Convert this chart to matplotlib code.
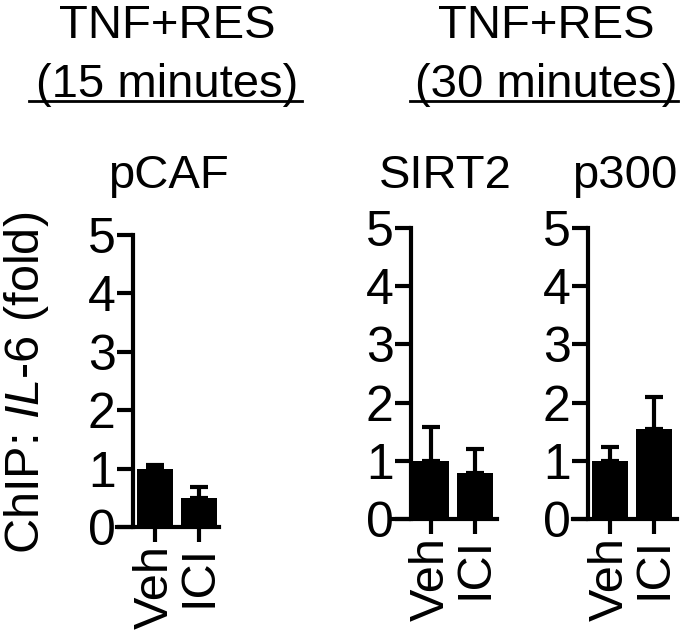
import matplotlib
matplotlib.use("Agg")
import matplotlib.pyplot as plt
from matplotlib.lines import Line2D

plt.rcParams['font.family'] = ['Liberation Sans', 'DejaVu Sans']
plt.rcParams['mathtext.fontset'] = 'custom'
plt.rcParams['mathtext.rm'] = 'Liberation Sans'
plt.rcParams['mathtext.it'] = 'Liberation Sans:italic'

# data
groups = ["Veh", "ICI"]
pcaf = [1.0, 0.5]
pcaf_err = [0.06, 0.18]
sirt2 = [1.0, 0.79]
sirt2_err = [0.58, 0.41]
p300 = [1.0, 1.55]
p300_err = [0.24, 0.55]
yticks = [0, 1, 2, 3, 4, 5]

W, H = 688, 638
fig = plt.figure(figsize=(W / 100, H / 100), dpi=100)

def fx(px):
    return px / W

def fy(py):
    return 1 - py / H

sp = 44.0  # px between bar centres
lw = 3.0

def panel(vals, errs, title, left, spine, right, c0, y0, y5):
    ax = fig.add_axes([fx(left), fy(y0), fx(right - left), (y0 - y5) / H])
    x = list(range(len(groups)))
    ax.bar(x, vals, width=0.8, color="black", zorder=3)
    ax.errorbar(x, vals, yerr=[[0] * len(errs), errs], fmt="none",
                ecolor="black", elinewidth=lw, capsize=6.5, capthick=lw, zorder=2)
    ax.set_xlim((left - c0) / sp, (right - c0) / sp)
    ax.set_ylim(0, 5)
    ax.set_yticks(yticks)
    ax.set_xticks(x)
    ax.set_xticklabels(groups, rotation=90, fontsize=35)
    ax.tick_params(axis="y", labelsize=36, length=11.5, width=lw, pad=1)
    ax.tick_params(axis="x", length=11, width=lw, pad=2)
    for s in ["top", "right"]:
        ax.spines[s].set_visible(False)
    ax.spines["left"].set_position(("data", (spine - c0) / sp))
    ax.spines["left"].set_linewidth(lw)
    ax.spines["bottom"].set_linewidth(lw)
    ax.patch.set_alpha(0)
    fig.text(fx((left + right) / 2), fy(188), title, ha="center", va="baseline", fontsize=34)
    return ax

panel(pcaf, pcaf_err, "pCAF", 117, 133, 219, 155, 527, 235)
panel(sirt2, sirt2_err, "SIRT2", 393, 411, 497, 431, 519, 228)
panel(p300, p300_err, "p300", 573, 588, 677, 610, 519, 228)

# headers
for cx, sub, x1, x2 in [(167, "(15 minutes)", 29, 302), (546, "(30 minutes)", 410, 678)]:
    fig.text(fx(cx), fy(38), "TNF+RES", ha="center", va="baseline", fontsize=34)
    fig.text(fx(cx), fy(97), sub, ha="center", va="baseline", fontsize=34)
    fig.add_artist(Line2D([fx(x1), fx(x2)], [fy(101), fy(101)], color="black", lw=2))

fig.text(fx(27), fy(383), "ChIP: $\\mathit{IL}$-$\\mathit{6}$ (fold)", rotation=90,
         ha="center", va="center", fontsize=35)

fig.savefig("out.png", dpi=100)
